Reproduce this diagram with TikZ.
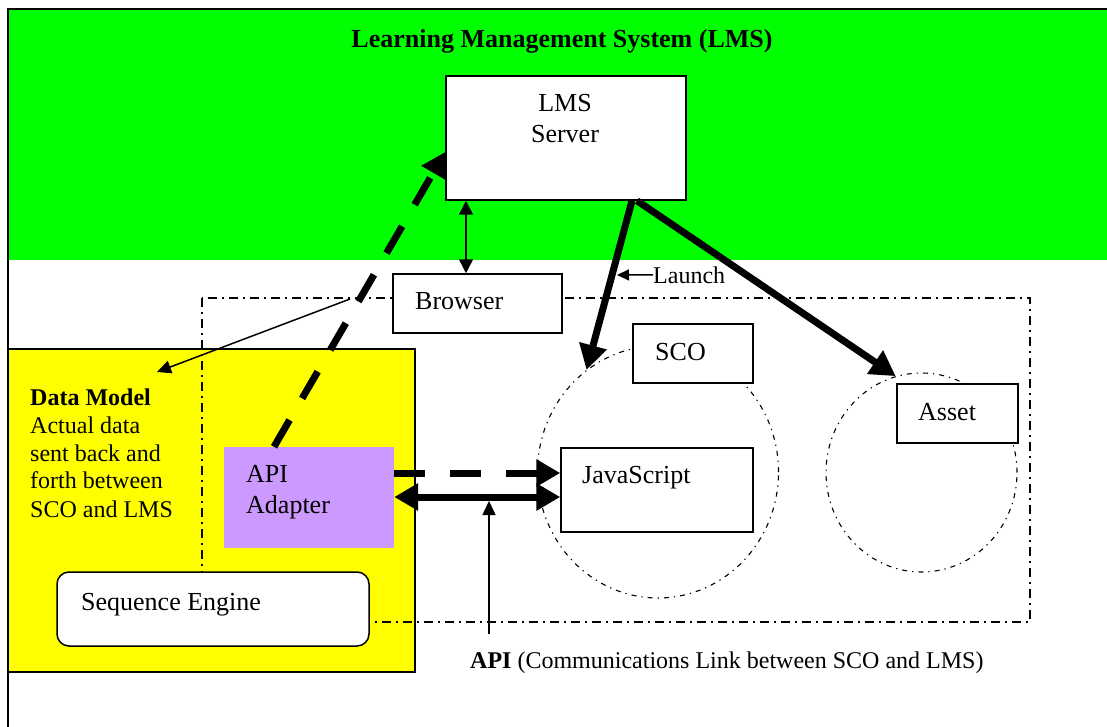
\documentclass[tikz,border=0pt]{standalone}
\usepackage{fontspec}
\setmainfont{Liberation Serif}
\usetikzlibrary{arrows.meta,shapes.geometric}
\definecolor{lmsgreen}{RGB}{0,255,0}
\definecolor{clientyellow}{RGB}{255,255,0}
\definecolor{adapterpurple}{RGB}{204,153,255}
\tikzset{
  box/.style={draw=black, line width=1.5pt, fill=white, inner sep=0pt},
  dashdot/.style={line width=1.8pt, dash pattern=on 9pt off 5pt on 2pt off 5pt},
  circdashdot/.style={line width=1.1pt, dash pattern=on 5pt off 5pt on 1.3pt off 5pt},
  txt/.style={inner sep=0pt, anchor=base west, font=\fontsize{26}{30}\selectfont},
  smalltxt/.style={inner sep=0pt, anchor=base west, font=\fontsize{24}{28}\selectfont},
  thickarrow/.style={line width=7pt, -{Triangle[length=25pt,width=27pt]}},
  thickdash/.style={line width=7pt, dash pattern=on 31pt off 25pt, -{Triangle[length=24pt,width=26pt]}},
  thinarrow/.style={line width=1.5pt, -{Triangle[length=14pt,width=13pt]}},
}
\begin{document}
\begin{tikzpicture}[x=1pt,y=-1pt]
\useasboundingbox (0,0) rectangle (1107,727);
% LMS region
\fill[lmsgreen] (8,9) rectangle (1107,260);
\draw[line width=1.5pt] (8,727) -- (8,9) -- (1107,9);
\node[inner sep=0pt, anchor=base, font=\fontsize{26}{30}\selectfont\bfseries] (title) at (562,48) {Learning Management System (LMS)};
% client (yellow)
\node[draw=black, line width=1.5pt, fill=clientyellow, minimum width=407pt, minimum height=323pt, inner sep=0pt] (client) at (211.5,510.5) {};
% dash-dot run-time area
\draw[dashdot] (202,298) rectangle (1030,622);
% circles
\node[ellipse, draw, circdashdot, minimum width=241pt, minimum height=252pt, inner sep=0pt] (scocircle) at (658,472) {};
\node[ellipse, draw, circdashdot, minimum width=191pt, minimum height=199pt, inner sep=0pt] (assetcircle) at (921.5,472.5) {};
% boxes
\node[box, minimum width=240pt, minimum height=124pt] (lmsserver) at (566,138) {};
\node[txt, anchor=base] (lmstext) at (565,112) {LMS};
\node[txt, anchor=base] (servertext) at (565,143) {Server};
\node[box, minimum width=169pt, minimum height=59pt] (browser) at (477.5,303.5) {};
\node[txt] (browsertext) at (415,309) {Browser};
\node[box, minimum width=120pt, minimum height=59pt] (sco) at (693,353.5) {};
\node[txt] (scotext) at (655,360) {SCO};
\node[box, minimum width=192pt, minimum height=84pt] (js) at (657,490) {};
\node[txt] (jstext) at (582,483) {JavaScript};
\node[box, minimum width=121pt, minimum height=59pt] (asset) at (957.5,413.5) {};
\node[txt] (assettext) at (918,420) {Asset};
\node[fill=adapterpurple, minimum width=170pt, minimum height=101pt, inner sep=0pt] (adapter) at (309,497.5) {};
\node[txt] (apitext) at (246,482) {API};
\node[txt] (adaptertext) at (246,513) {Adapter};
\node[box, rounded corners=12pt, minimum width=312pt, minimum height=74pt] (seqengine) at (213,609) {};
\node[txt] (seqtext) at (81,610) {Sequence Engine};
% data model text
\node[smalltxt, font=\fontsize{24}{28}\selectfont\bfseries] (datamodel) at (30,405) {Data Model};
\node[smalltxt] (dm1) at (30,433) {Actual data};
\node[smalltxt] (dm2) at (30,461) {sent back and};
\node[smalltxt] (dm3) at (30,488) {forth between};
\node[smalltxt] (dm4) at (30,517) {SCO and LMS};
% labels
\node[smalltxt] (launch) at (653,283) {Launch};
\node[smalltxt] (apilabel) at (470,668) {\textbf{API} (Communications Link between SCO and LMS)};
% coordinates for free ends
\coordinate (dmsrc) at (350,299);
\coordinate (dmtip) at (157,372);
\coordinate (launchtip) at (617,275);
\coordinate (apisrc) at (489,634);
\coordinate (apitip) at (489,501);
% connectors
\draw[line width=1.5pt, {Triangle[length=14pt,width=14pt]}-{Triangle[length=14pt,width=14pt]}] (lmsserver.south -| 466,0) -- (browser.north -| 466,0);
\draw[thinarrow] (dmsrc) -- (dmtip);
\draw[thickdash] (adapter.north -| 274,0) -- (lmsserver.west |- 0,152);
\draw[thickarrow] (lmsserver.south -| 632,0) -- (scocircle.125);
\draw[thickarrow] (lmsserver.south -| 637,0) -- (assetcircle.105);
\draw[line width=1.5pt, -{Triangle[length=12pt,width=11pt]}] (launch.west) -- (launchtip);
\draw[thickdash] (adapter.east |- 0,473) -- (js.west |- 0,473);
\draw[line width=7pt, {Triangle[length=24pt,width=26pt]}-{Triangle[length=24pt,width=26pt]}] (adapter.east |- 0,497) -- (js.west |- 0,497);
\draw[thinarrow] (apisrc) -- (apitip);
\end{tikzpicture}
\end{document}
